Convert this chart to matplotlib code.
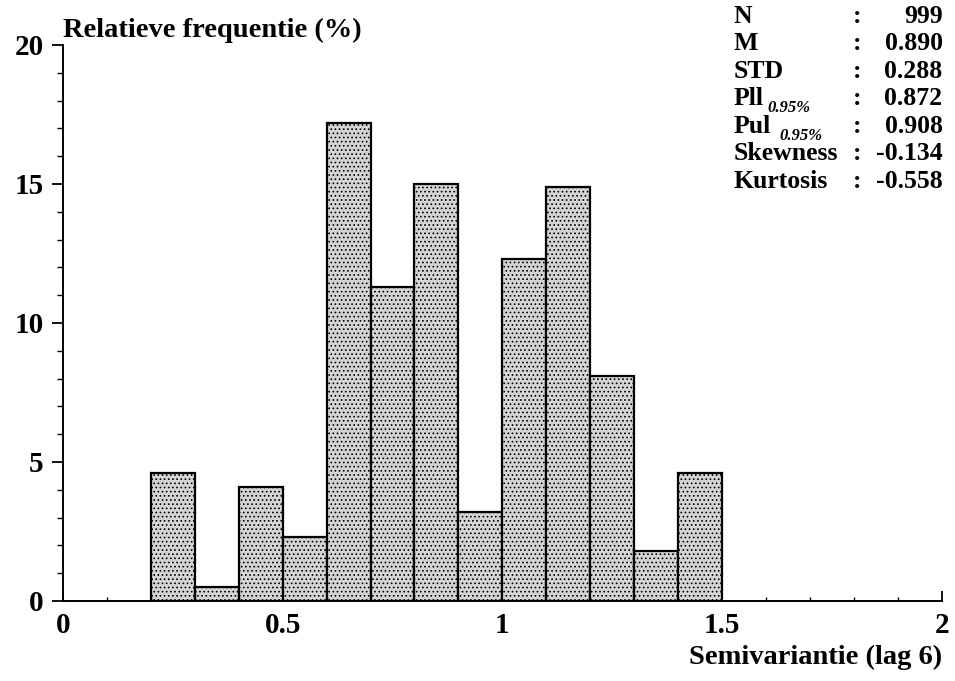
import numpy as np
from matplotlib import pyplot as plt
from matplotlib.ticker import MultipleLocator

# histogram data
bin_left = [0.2, 0.3, 0.4, 0.5, 0.6, 0.7, 0.8, 0.9, 1.0, 1.1, 1.2, 1.3, 1.4]
rel_freq = [4.6, 0.5, 4.1, 2.3, 17.2, 11.3, 15.0, 3.2, 12.3, 14.9, 8.1, 1.8, 4.6]
bin_width = 0.1

stat_names = ["N", "M", "STD", "Pll", "Pul", "Skewness", "Kurtosis"]
stat_subs = ["", "", "", "0.95%", "0.95%", "", ""]
stat_values = ["999", "0.890", "0.288", "0.872", "0.908", "-0.134", "-0.558"]

plt.rcParams["font.family"] = ["Liberation Serif", "DejaVu Serif"]
plt.rcParams["font.weight"] = "bold"
plt.rcParams["hatch.color"] = "#4a4a4a"
plt.rcParams["hatch.linewidth"] = 0.7

fig = plt.figure(figsize=(9.55, 6.81), dpi=100)
ax = fig.add_axes([0.066, 0.1175, 0.92, 0.8165])

ax.bar(bin_left, rel_freq, width=bin_width, align="edge",
       facecolor="#d4d4d4", edgecolor="black", linewidth=1.6, hatch="....")

ax.set_xlim(0, 2)
ax.set_ylim(0, 20)
for s in ["top", "right"]:
    ax.spines[s].set_visible(False)
ax.spines["left"].set_linewidth(1.4)
ax.spines["bottom"].set_linewidth(1.4)

ax.xaxis.set_minor_locator(MultipleLocator(0.1))
ax.yaxis.set_minor_locator(MultipleLocator(1))
ax.set_xticks([0, 0.5, 1, 1.5, 2])
ax.set_xticklabels(["0", "0.5", "1", "1.5", "2"], fontsize=21)
ax.set_yticks([0, 5, 10, 15, 20])
ax.set_yticklabels(["0", "5", "10", "15", "20"], fontsize=21)
ax.tick_params(axis="x", which="major", direction="in", length=7, width=1.3, pad=8)
ax.tick_params(axis="x", which="minor", direction="in", length=3, width=1.0)
ax.tick_params(axis="y", which="major", direction="out", length=8, width=1.3, pad=6)
ax.tick_params(axis="y", which="minor", direction="out", length=4, width=1.0)

fig.text(0.066, 0.956, "Relatieve frequentie (%)", fontsize=20.5, ha="left", va="center")
fig.text(0.987, 0.034, "Semivariantie (lag 6)", fontsize=20.5, ha="right", va="center")

# statistics block, top right
y0, dy = 0.976, 0.0404
sub_x = [0, 0, 0, 0.804, 0.816, 0, 0]
for i, (name, sub, val) in enumerate(zip(stat_names, stat_subs, stat_values)):
    y = y0 - i * dy
    fig.text(0.768, y, name, fontsize=18.5, ha="left", va="center")
    if sub:
        fig.text(sub_x[i], y - 0.014, sub, fontsize=12, style="italic",
                 ha="left", va="center")
    fig.text(0.897, y, ":", fontsize=18.5, ha="center", va="center")
    fig.text(0.987, y, val, fontsize=18.5, ha="right", va="center")

fig.savefig("out.png", dpi=100)
